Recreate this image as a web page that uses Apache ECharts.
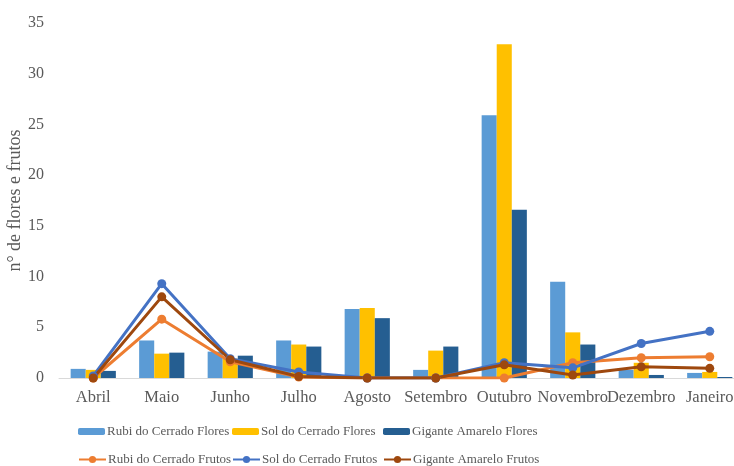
<!DOCTYPE html>
<html><head><meta charset="utf-8">
<script src="https://cdn.jsdelivr.net/npm/echarts@6/dist/echarts.min.js"></script>
<style>html,body{margin:0;padding:0;background:#fff}#c{width:734px;height:466px}</style>
</head><body><div id="c"></div>
<script>
const months = ['Abril','Maio','Junho','Julho','Agosto','Setembro','Outubro','Novembro','Dezembro','Janeiro'];
const rubiFlores = [0.9, 3.7, 2.6, 3.7, 6.8, 0.8, 25.9, 9.5, 0.8, 0.5];
const solFlores = [0.8, 2.4, 1.9, 3.3, 6.9, 2.7, 32.9, 4.5, 1.5, 0.6];
const giganteFlores = [0.7, 2.5, 2.2, 3.1, 5.9, 3.1, 16.6, 3.3, 0.3, 0.1];
const rubiFrutos = [0, 5.8, 1.6, 0.1, 0, 0, 0, 1.5, 2.0, 2.1];
const solFrutos = [0.2, 9.3, 1.9, 0.6, 0, 0, 1.5, 1.0, 3.4, 4.6];
const giganteFrutos = [0, 8.0, 1.8, 0.15, 0, 0, 1.3, 0.3, 1.1, 0.95];
const yTicks = [0, 5, 10, 15, 20, 25, 30, 35];

const names = ['Rubi do Cerrado Flores','Sol do Cerrado Flores','Gigante Amarelo Flores','Rubi do Cerrado Frutos','Sol do Cerrado Frutos','Gigante Amarelo Frutos'];
const colors = ['#5B9BD5','#FFC000','#255E91','#ED7D31','#4472C4','#9E480E'];
const font = '"Liberation Serif","Times New Roman",serif';
const txt = '#595959';

const legendPos = [[78,425],[232,425],[383,425],[78,453],[232,453],[383,453]];
const legends = names.map((n,i)=>({
  data:[n], left: legendPos[i][0], top: legendPos[i][1],
  itemWidth: 27, itemHeight: i<3 ? 7 : 9, itemGap: 4, padding: 0,
  textStyle:{color:txt, fontFamily:font, fontSize:13, padding:[0,0,0,-3]}
}));

const bar = (n,d,c)=>({name:n,type:'bar',data:d,itemStyle:{color:c},barGap:'0%',barCategoryGap:'34%'});
const line = (n,d,c)=>({name:n,type:'line',data:d,symbol:'circle',symbolSize:9,lineStyle:{width:3,color:c},itemStyle:{color:c},z:5});

const chart = echarts.init(document.getElementById('c'));
chart.setOption({
  animation:false,
  color: colors,
  grid:{left:59,right:-10,top:23,bottom:88,containLabel:false,outerBoundsMode:'none'},
  legend: legends,
  xAxis:{type:'category',data:months,
    axisLine:{lineStyle:{color:'#d9d9d9',width:1}},axisTick:{show:false},
    axisLabel:{color:txt,fontFamily:font,fontSize:16.5,margin:11,interval:0}},
  yAxis:{type:'value',min:0,max:35,interval:5,
    name:'n° de flores e frutos',nameLocation:'middle',nameGap:35,nameMoveOverlap:false,
    nameTextStyle:{color:txt,fontFamily:font,fontSize:18},
    axisLine:{show:false},axisTick:{show:false},splitLine:{show:false},
    axisLabel:{color:txt,fontFamily:font,fontSize:16,margin:15,
      formatter:v=>yTicks.includes(v)?String(v):''}},
  series:[
    bar(names[0],rubiFlores,colors[0]),
    bar(names[1],solFlores,colors[1]),
    bar(names[2],giganteFlores,colors[2]),
    line(names[3],rubiFrutos,colors[3]),
    line(names[4],solFrutos,colors[4]),
    line(names[5],giganteFrutos,colors[5])
  ]
});
</script></body></html>
